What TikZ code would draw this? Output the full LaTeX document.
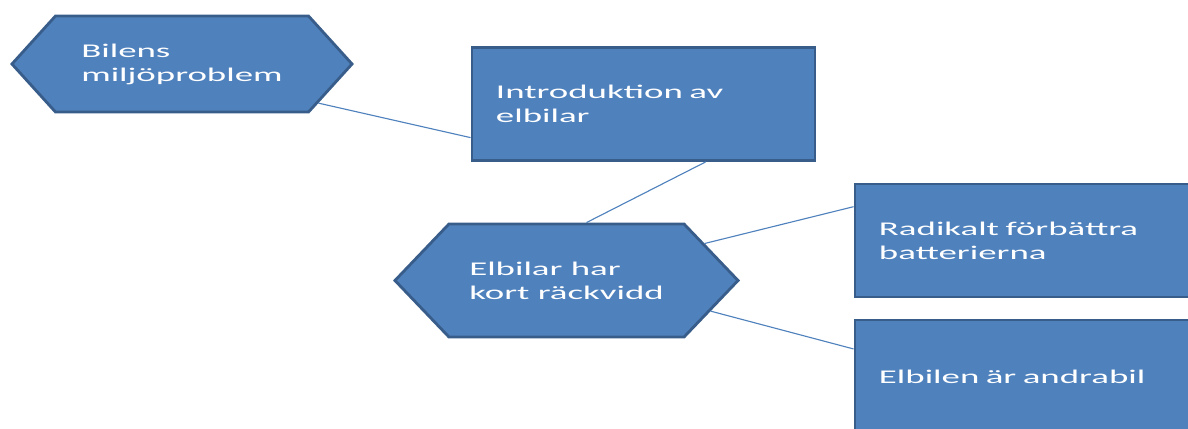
\documentclass[tikz,border=0pt]{standalone}
\usepackage{fontspec}
\setmainfont{Carlito}[FakeStretch=1.9]
\usetikzlibrary{shapes.symbols}
\definecolor{boxblue}{HTML}{4F81BD}
\definecolor{boxedge}{HTML}{385D8A}

\begin{document}
\begin{tikzpicture}[x=0.025cm,y=-0.025cm,
	box/.style={draw=boxedge,line width=2pt,fill=boxblue,text=white,
		font=\fontsize{13.8}{17.1}\selectfont,align=left,inner xsep=0.6cm,
		minimum height=2.825cm},
	hexa/.style={box,shape=signal,signal to=west and east,inner xsep=0pt},
	link/.style={draw=boxblue,line width=0.8pt}]
		\clip (0,0) rectangle (1188,428);% frame of the page

		% the two hexagons
		\node[hexa,minimum width=8.5cm,minimum height=2.4cm,signal pointer angle=95.6]
			(bilens) at (182,64) {Bilens\\miljöproblem};
		\node[hexa,minimum width=8.575cm,signal pointer angle=92.6]
			(elbilar) at (566.5,280.5) {Elbilar har\\kort räckvidd};

		% the boxes
		\node[box,text width=7.375cm] (intro) at (643.5,104) {Introduktion av\\elbilar};
		\node[box,text width=7.425cm] (batteri) at (1027.5,240.5) {Radikalt förbättra\\batterierna};
		\node[box,text width=7.425cm] (andrabil) at (1027.5,376.5) {Elbilen är andrabil};

		\draw[link] (bilens.-16) -- (intro.-169.4);
		\draw[link] (intro.-43.8) -- (elbilar.71.9);
		\draw[link] (elbilar.15.9) -- (batteri.169.7);
		\draw[link] (elbilar.-12.9) -- (andrabil.171.9);
	\end{tikzpicture}
\end{document}
